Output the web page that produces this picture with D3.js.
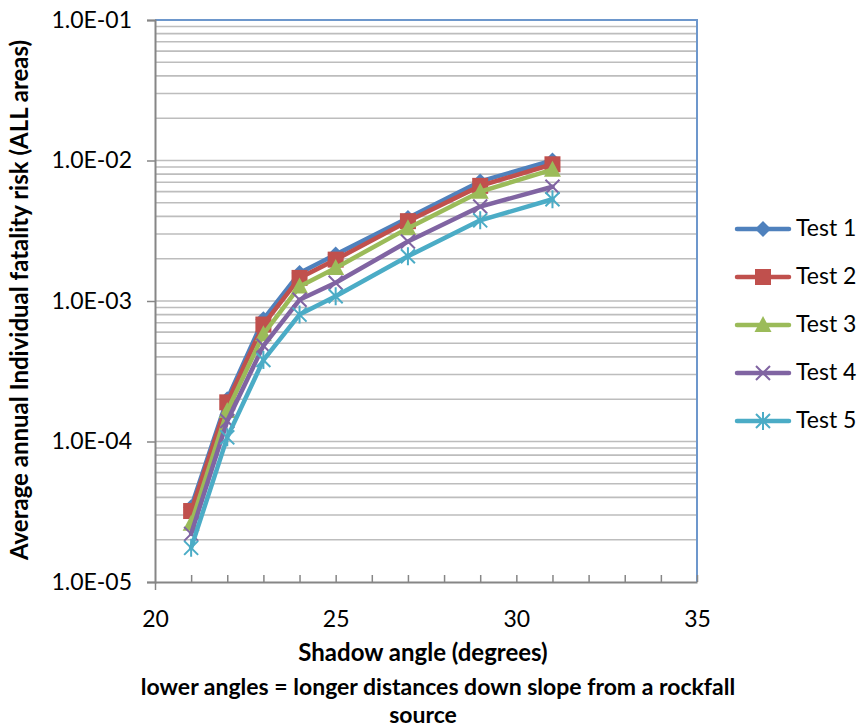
<!DOCTYPE html>
<html>
<head>
<meta charset="utf-8">
<script src="https://cdn.jsdelivr.net/npm/d3@7/dist/d3.min.js"></script>
<style>
html,body{margin:0;padding:0;background:#fff;}
svg{display:block;font-family:Lato,"Liberation Sans",sans-serif;}
</style>
</head>
<body>
<svg id="chart" width="861" height="728"></svg>
<script>
const angles = [21, 22, 23, 24, 25, 27, 29, 31];
const seriesNames = ["Test 1", "Test 2", "Test 3", "Test 4", "Test 5"];
const test1 = [3.4e-5, 2.0e-4, 7.4e-4, 1.58e-3, 2.14e-3, 3.9e-3, 7.1e-3, 1.0e-2];
const test2 = [3.2e-5, 1.9e-4, 6.8e-4, 1.46e-3, 1.97e-3, 3.7e-3, 6.6e-3, 9.4e-3];
const test3 = [2.6e-5, 1.65e-4, 5.8e-4, 1.27e-3, 1.72e-3, 3.3e-3, 6.0e-3, 8.6e-3];
const test4 = [2.2e-5, 1.4e-4, 4.8e-4, 1.02e-3, 1.35e-3, 2.65e-3, 4.7e-3, 6.5e-3];
const test5 = [1.75e-5, 1.07e-4, 3.8e-4, 8.0e-4, 1.08e-3, 2.08e-3, 3.75e-3, 5.3e-3];
const colors = ["#4F81BD", "#C0504D", "#9BBB59", "#8064A2", "#4BACC6"];
const markers = ["diamond", "square", "triangle", "x", "star"];
const xTicks = [20, 25, 30, 35];
const yTicks = [1e-5, 1e-4, 1e-3, 1e-2, 1e-1];
const yTickLabels = ["1.0E-05", "1.0E-04", "1.0E-03", "1.0E-02", "1.0E-01"];
const xTitle = "Shadow angle (degrees)";
const xSub1 = "lower angles = longer distances down slope from a rockfall";
const xSub2 = "source";
const yTitle = "Average annual Individual fatality risk (ALL areas)";

const allSeries = [test1, test2, test3, test4, test5];

const svg = d3.select("#chart");
const L = 155, R = 697, T = 20, B = 582;
const x = d3.scaleLinear().domain([20, 35]).range([L, R]);
const y = d3.scaleLog().domain([1e-5, 1e-1]).range([B, T]);

// minor gridlines
const gridVals = [];
for (let e = -5; e < -1; e++) {
  for (let m = 1; m <= 9; m++) gridVals.push(m * Math.pow(10, e));
}
gridVals.push(1e-1);
svg.append("g").selectAll("line").data(gridVals.filter(v => v > 1e-5)).join("line")
  .attr("x1", L).attr("x2", R)
  .attr("y1", d => y(d)).attr("y2", d => y(d))
  .attr("stroke", "#bdbdbd").attr("stroke-width", 1.6);

// plot border top/right (blue)
svg.append("path")
  .attr("d", `M${L},${T}H${R}V${B}`)
  .attr("fill", "none").attr("stroke", "#6d97cc").attr("stroke-width", 2);

// y axis
const yAxis = d3.axisLeft(y).tickValues(yTicks).tickFormat((d, i) => yTickLabels[i]).tickSize(8).tickPadding(15);
const gy = svg.append("g").attr("transform", `translate(${L},0)`).call(yAxis);
gy.select(".domain").attr("stroke", "#868686").attr("stroke-width", 2);
gy.selectAll(".tick line").attr("stroke", "#868686").attr("stroke-width", 1.5);
gy.selectAll(".tick text").attr("font-size", 23).attr("fill", "#000").attr("font-family", "Lato");

// x axis
const xAxisMinor = d3.axisBottom(x).ticks(15).tickFormat("").tickSize(-7).tickSizeOuter(0);
const gxm = svg.append("g").attr("transform", `translate(0,${B})`).call(xAxisMinor);
gxm.select(".domain").attr("stroke", "#868686").attr("stroke-width", 2);
gxm.selectAll(".tick line").attr("stroke", "#868686").attr("stroke-width", 1.5);
gxm.selectAll(".tick").filter(d => d === 20).select("line").attr("y2", 8);

const xAxis = d3.axisBottom(x).tickValues(xTicks).tickSize(0).tickPadding(29);
const gx = svg.append("g").attr("transform", `translate(0,${B})`).call(xAxis);
gx.select(".domain").remove();
gx.selectAll(".tick text").attr("font-size", 23).attr("fill", "#000").attr("font-family", "Lato");

// titles
svg.append("text").attr("x", 423).attr("y", 661).attr("text-anchor", "middle")
  .attr("font-size", 24).attr("font-weight", "bold").text(xTitle);
svg.append("text").attr("x", 438).attr("y", 695).attr("text-anchor", "middle")
  .attr("font-size", 23).attr("font-weight", "bold").text(xSub1);
svg.append("text").attr("x", 423).attr("y", 723).attr("text-anchor", "middle")
  .attr("font-size", 23).attr("font-weight", "bold").text(xSub2);
svg.append("text").attr("transform", `translate(28,300) rotate(-90)`)
  .attr("text-anchor", "middle").attr("font-size", 24).attr("font-weight", "bold").text(yTitle);

function drawMarker(g, type, color) {
  if (type === "diamond") {
    g.append("path").attr("d", "M0,-8L8,0L0,8L-8,0Z").attr("fill", color);
  } else if (type === "square") {
    g.append("rect").attr("x", -8).attr("y", -8).attr("width", 16).attr("height", 16).attr("fill", color);
  } else if (type === "triangle") {
    g.append("path").attr("d", "M0,-9L8.5,7L-8.5,7Z").attr("fill", color);
  } else if (type === "x") {
    g.append("path").attr("d", "M-7,-7L7,7M-7,7L7,-7").attr("stroke", color).attr("stroke-width", 2);
  } else if (type === "star") {
    g.append("path").attr("d", "M-7,-7L7,7M-7,7L7,-7M0,-9V9").attr("stroke", color).attr("stroke-width", 2);
  }
}

const line = d3.line().x(d => x(d[0])).y(d => y(d[1]));
allSeries.forEach((vals, si) => {
  const pts = angles.map((a, i) => [a, vals[i]]);
  const g = svg.append("g");
  g.append("path").datum(pts).attr("d", line).attr("fill", "none")
    .attr("stroke", colors[si]).attr("stroke-width", 4.5).attr("stroke-linejoin", "round").attr("stroke-linecap", "round");
  pts.forEach(p => {
    const mg = g.append("g").attr("transform", `translate(${x(p[0])},${y(p[1])})`);
    drawMarker(mg, markers[si], colors[si]);
  });
});

// legend
const lg = svg.append("g");
seriesNames.forEach((n, i) => {
  const yy = 229 + i * 48;
  lg.append("line").attr("x1", 737).attr("x2", 789).attr("y1", yy).attr("y2", yy)
    .attr("stroke", colors[i]).attr("stroke-width", 4.5).attr("stroke-linecap", "round");
  const mg = lg.append("g").attr("transform", `translate(763,${yy})`);
  drawMarker(mg, markers[i], colors[i]);
  lg.append("text").attr("x", 796).attr("y", yy + 7).attr("font-size", 23).text(n);
});
</script>
</body>
</html>
